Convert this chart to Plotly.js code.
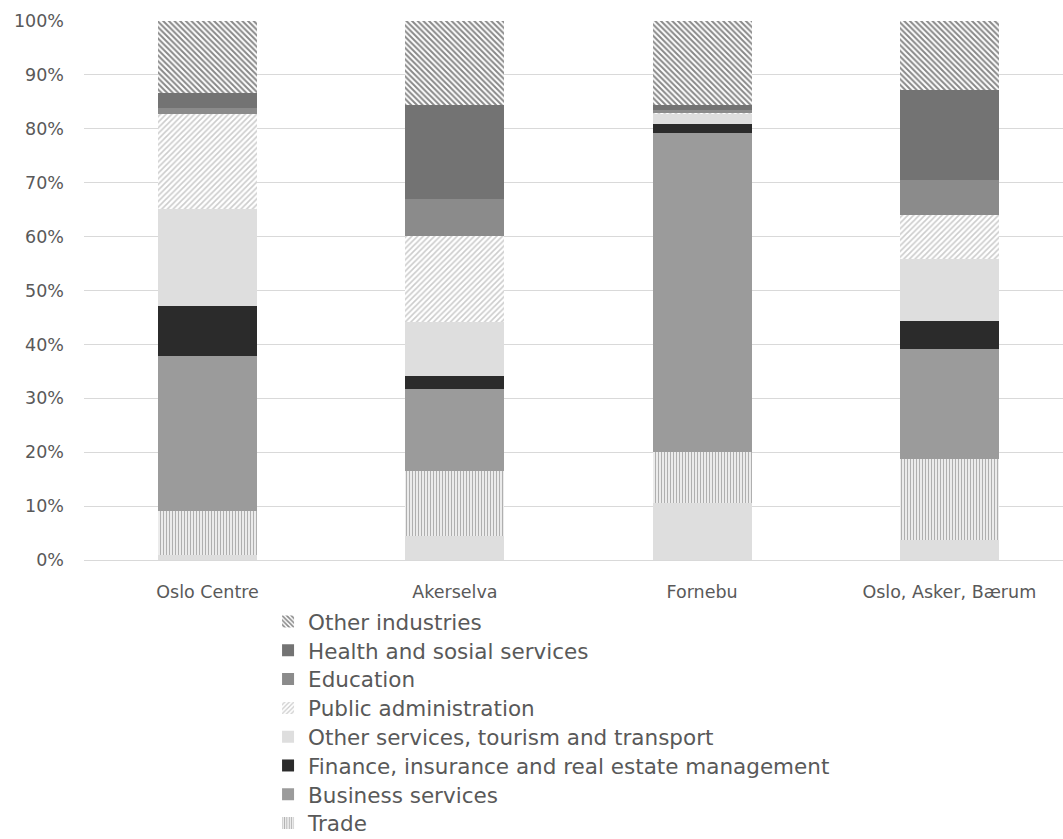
<!DOCTYPE html>
<html>
<head>
<meta charset="utf-8">
<script src="https://cdn.plot.ly/plotly-3.0.1.min.js"></script>
<style>html,body{margin:0;padding:0;background:#fff;}#chart{width:1063px;height:839px;}</style>
</head>
<body>
<div id="chart"></div>
<script>
var categories = ["Oslo Centre", "Akerselva", "Fornebu", "Oslo, Asker, Bærum"];

// bottom segment (its legend entry is not visible in the reference)
var otherBottom = [0.9, 4.45, 10.6, 3.7];
var trade = [8.1, 12.15, 9.4, 15.0];
var businessServices = [28.9, 15.1, 59.3, 20.4];
var finance = [9.3, 2.4, 1.5, 5.3];
var otherServices = [17.9, 10.0, 1.9, 11.4];
var publicAdmin = [17.6, 16.0, 0.3, 8.3];
var education = [1.2, 6.9, 0.5, 6.4];
var health = [2.7, 17.5, 1.0, 16.7];
var otherIndustries = [13.4, 15.5, 15.5, 12.8];

var seriesNames = ["", "Trade", "Business services", "Finance, insurance and real estate management",
  "Other services, tourism and transport", "Public administration", "Education",
  "Health and sosial services", "Other industries"];
var seriesValues = [otherBottom, trade, businessServices, finance, otherServices, publicAdmin, education, health, otherIndustries];

var styles = [
  {color: "#dedede"},
  {color: "#ffffff", pattern: {shape: "|", fgcolor: "#5f5f5f", bgcolor: "#ffffff", size: 3, solidity: 0.5, fillmode: "overlay"}},
  {color: "#9b9b9b"},
  {color: "#2b2b2b"},
  {color: "#dedede"},
  {color: "#ffffff", pattern: {shape: "/", fgcolor: "#9a9a9a", bgcolor: "#ffffff", size: 4, solidity: 0.4, fillmode: "overlay"}},
  {color: "#8b8b8b"},
  {color: "#737373"},
  {color: "#ffffff", pattern: {shape: "\\", fgcolor: "#111111", bgcolor: "#ffffff", size: 4, solidity: 0.5, fillmode: "overlay"}}
];

// legend rows, top to bottom (one single-entry legend per row to match spacing)
var legendRowOf = {8: 0, 7: 1, 6: 2, 5: 3, 4: 4, 3: 5, 2: 6, 1: 7};

var traces = seriesValues.map(function (vals, i) {
  var m = {color: styles[i].color, line: {width: 0}};
  if (styles[i].pattern) m.pattern = styles[i].pattern;
  var t = {
    type: "bar",
    name: seriesNames[i],
    x: categories,
    y: vals,
    marker: m,
    width: 0.4,
    showlegend: i !== 0,
    hoverinfo: "name+y"
  };
  if (i !== 0) {
    var r = legendRowOf[i];
    t.legend = r === 0 ? "legend" : "legend" + (r + 1);
  }
  return t;
});

var plotTop = 21, plotBottom = 560, plotH = plotBottom - plotTop;
var layout = {
  width: 1063,
  height: 839,
  barmode: "stack",
  barnorm: "percent",
  paper_bgcolor: "#ffffff",
  plot_bgcolor: "#ffffff",
  font: {family: "DejaVu Sans, sans-serif", color: "#595959", size: 17.5},
  margin: {l: 84, r: 0, t: plotTop, b: 839 - plotBottom, autoexpand: false},
  xaxis: {
    type: "category",
    range: [-0.5, 3.46],
    showgrid: false,
    showline: true,
    linecolor: "#d9d9d9",
    linewidth: 1,
    ticks: "",
    tickfont: {size: 17.5, color: "#595959"},
    ticklabelstandoff: 16,
    automargin: false,
    fixedrange: true
  },
  yaxis: {
    range: [0, 100],
    dtick: 10,
    ticksuffix: "%",
    showgrid: true,
    gridcolor: "#d9d9d9",
    gridwidth: 1,
    zeroline: false,
    ticks: "",
    tickfont: {size: 17.5, color: "#595959"},
    ticklabelstandoff: 19,
    automargin: false,
    fixedrange: true
  },
  showlegend: true
};

for (var r = 0; r < 8; r++) {
  var key = r === 0 ? "legend" : "legend" + (r + 1);
  var cy = 621.5 + 28.8 * r;
  layout[key] = {
    orientation: "v",
    x: 0.188,
    xanchor: "left",
    y: (plotBottom - cy) / plotH,
    yanchor: "middle",
    font: {size: 21.5, color: "#595959"},
    bgcolor: "rgba(0,0,0,0)",
    borderwidth: 0,
    tracegroupgap: 0
  };
}

Plotly.newPlot("chart", traces, layout, {displayModeBar: false, staticPlot: true});
</script>
</body>
</html>
